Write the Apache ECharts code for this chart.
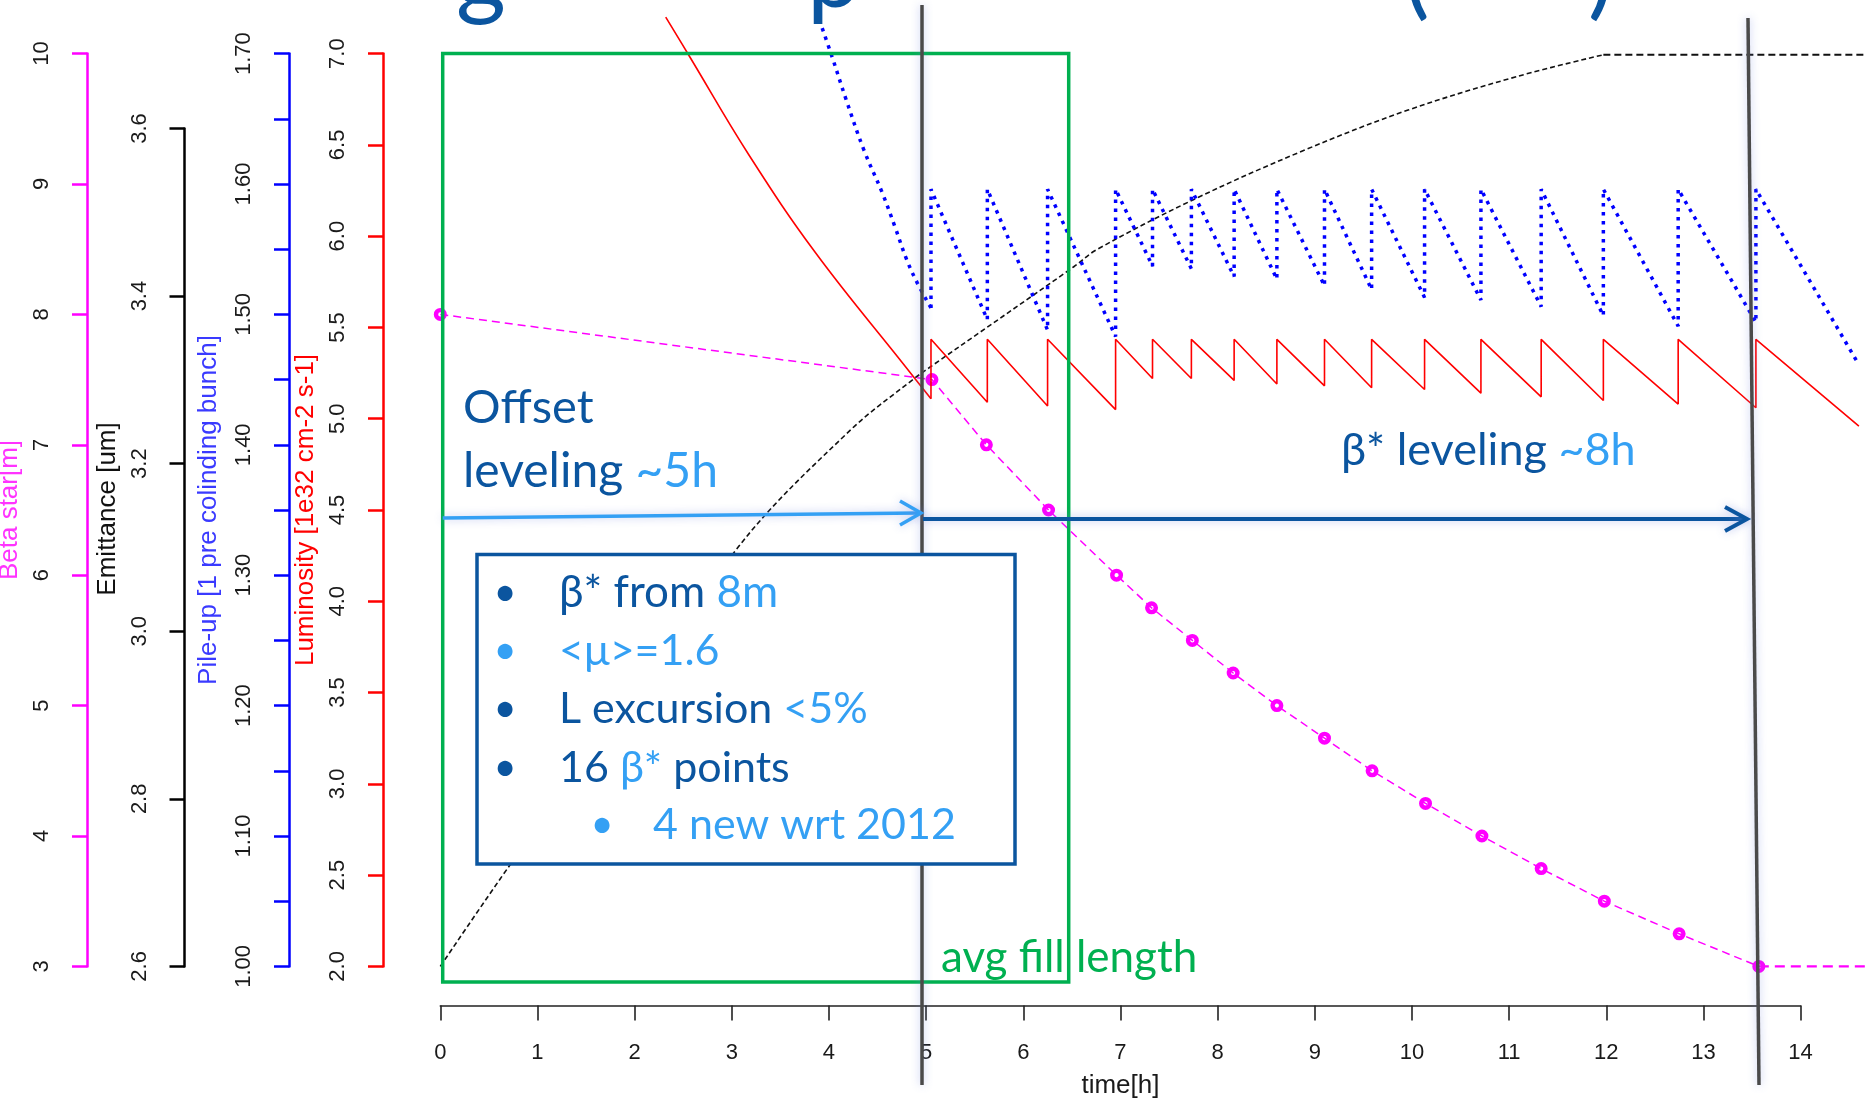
<!DOCTYPE html>
<html><head><meta charset="utf-8">
<script src="https://cdn.jsdelivr.net/npm/echarts@6/dist/echarts.min.js"></script>
<style>html,body{margin:0;padding:0;background:#fff}#c{width:1866px;height:1098px}</style>
</head><body><div id="c"></div>
<script>
// ---------- data ----------
// x axis (hours)
const xTickValues = [0,1,2,3,4,5,6,7,8,9,10,11,12,13,14];
// beta* step times (h) where luminosity / pile-up jump back up
const stepTime   = [5.05, 5.63, 6.25, 6.95, 7.33, 7.73, 8.17, 8.61, 9.10, 9.585, 10.13, 10.71, 11.33, 11.97, 12.74, 13.54];
// luminosity [1e32] : offset-leveling part, trough before each step, value after each step, tail
const lumOffsetTime  = [2.32, 2.57, 3.17, 3.86, 4.78, 5.05];
const lumOffsetValue = [7.20, 6.98, 6.45, 5.91, 5.29, 5.11];
const lumBefore = [5.11, 5.09, 5.07, 5.05, 5.22, 5.22, 5.21, 5.19, 5.18, 5.17, 5.16, 5.14, 5.12, 5.10, 5.08, 5.06];
const lumAfter  = [5.435, 5.435, 5.435, 5.435, 5.435, 5.435, 5.435, 5.435, 5.435, 5.435, 5.435, 5.435, 5.435, 5.435, 5.435, 5.435];
const lumTailTime = [14.60], lumTailValue = [4.96];
// pile-up
const puOffsetTime  = [3.90, 4.03, 4.18, 4.36, 4.55, 4.68, 4.80, 4.91, 5.05];
const puOffsetValue = [1.726, 1.698, 1.664, 1.626, 1.593, 1.567, 1.542, 1.524, 1.505];
const puBefore = [1.505, 1.496, 1.488, 1.483, 1.537, 1.535, 1.529, 1.527, 1.522, 1.519, 1.513, 1.511, 1.506, 1.499, 1.491, 1.494];
const puAfter  = [1.596, 1.596, 1.596, 1.596, 1.596, 1.596, 1.596, 1.596, 1.596, 1.596, 1.596, 1.596, 1.596, 1.596, 1.596, 1.596];
const puTailTime = [14.58], puTailValue = [1.464];
// beta star [m]
const betaTime  = [0, 5.06, 5.62, 6.26, 6.96, 7.32, 7.74, 8.16, 8.61, 9.10, 9.59, 10.14, 10.72, 11.33, 11.98, 12.75, 13.57];
const betaValue = [8, 7.5, 7, 6.5, 6, 5.75, 5.5, 5.25, 5, 4.75, 4.5, 4.25, 4, 3.75, 3.5, 3.25, 3];
const betaTailTime = [13.57, 14.67], betaTailValue = [3, 3];
// emittance [um]
const emitTime  = [0, 0.735, 3.07, 4.22, 4.86, 5.05, 6.52, 6.75, 7.75, 8.89, 9.96, 11.08, 11.97];
const emitValue = [2.600, 2.724, 3.101, 3.240, 3.300, 3.316, 3.435, 3.455, 3.515, 3.574, 3.622, 3.662, 3.688];
const emitFlatTime = [11.97, 14.67], emitFlatValue = [3.688, 3.688];
// tick labels
const lumLabels  = [2.0,2.5,3.0,3.5,4.0,4.5,5.0,5.5,6.0,6.5,7.0];
const puLabels   = [1.00,1.10,1.20,1.30,1.40,1.50,1.60,1.70];
const emitLabels = [2.6,2.8,3.0,3.2,3.4,3.6];
const betaLabels = [3,4,5,6,7,8,9,10];

// ---------- build series data ----------
function zip(t, v){ return t.map((x,i)=>[x, v[i]]); }
function steps(before, after, tailT, tailV){
  const d = [];
  stepTime.forEach((t,i)=>{ d.push([t, before[i]]); d.push([t, after[i]]); });
  return d.concat(zip(tailT, tailV));
}
const lumOffset = zip(lumOffsetTime, lumOffsetValue);
const lumSteps  = steps(lumBefore, lumAfter, lumTailTime, lumTailValue);
const puOffset  = zip(puOffsetTime, puOffsetValue);
const puSteps   = steps(puBefore, puAfter, puTailTime, puTailValue);
const betaData  = zip(betaTime, betaValue);
const betaTail  = zip(betaTailTime, betaTailValue);
const emitData  = zip(emitTime, emitValue);
const emitFlat  = zip(emitFlatTime, emitFlatValue);

// ---------- layout / styling ----------
const W = 1866, H = 1098;
const AXF = '"Liberation Sans", Arial, sans-serif';
const SF = 'Lato, "Noto Sans", sans-serif';
const DARK = '#0b559f', LIGHT = '#34a0f4', GREEN = '#00b050';
const GL = 440.3, GR = 65.4, GT = 53.6, GB = 131.6;
const XMAX = 14 * (W - GL) / (W - GL - GR);   // hour value at the right edge of the picture
const RING = 'path://M0,-10A10,10 0 1,1 0,10A10,10 0 1,1 0,-10ZM0,-3.2A3.2,3.2 0 1,0 0,3.2A3.2,3.2 0 1,0 0,-3.2Z';

function yAxis(o){
  return {
    type:'value', gridIndex:o.grid||0, position:'left', offset:o.offset,
    min:o.min, max:o.max, interval:o.interval,
    name:o.name, nameLocation:'middle', nameGap:o.nameGap,
    nameTextStyle:Object.assign({color:o.nameColor, fontSize:26, fontFamily:AXF}, o.nameExtra||{}),
    axisLine:{show:true, onZero:false, lineStyle:{color:o.color, width:2.5}},
    axisTick:{show:true, length:15, lineStyle:{color:o.color, width:2.5}},
    axisLabel:{rotate:90, margin:34, color:'#1a1a1a', fontSize:22, fontFamily:AXF,
      formatter:(v)=>{ const hit=o.labels.find(l=>Math.abs(l-v)<1e-6); return hit===undefined?'':hit.toFixed(o.dec); }},
    splitLine:{show:false}
  };
}
const plain = {outerBoundsMode:'none', containLabel:false};

const option = {
  animation:false,
  backgroundColor:'#ffffff',
  grid:[
    Object.assign({left:GL, right:0, top:GT, bottom:GB}, plain),
    Object.assign({left:GL, right:0, top:128.5, bottom:GB}, plain),
    Object.assign({left:GL, right:GR, top:GT, bottom:GB}, plain)
  ],
  xAxis:[
    {type:'value', gridIndex:0, min:0, max:XMAX, show:false},
    {type:'value', gridIndex:1, min:0, max:XMAX, show:false},
    {type:'value', gridIndex:2, min:0, max:14, interval:1, position:'bottom', offset:39.2,
     name:'time[h]', nameLocation:'middle', nameGap:67,
     nameTextStyle:{fontSize:26, color:'#1a1a1a', fontFamily:AXF},
     axisLine:{onZero:false, lineStyle:{color:'#222', width:1.6}},
     axisTick:{length:15, lineStyle:{color:'#222', width:1.6}},
     axisLabel:{margin:36, fontSize:22, color:'#1a1a1a', fontFamily:AXF,
       formatter:(v)=> xTickValues.includes(v) ? String(v) : ''},
     splitLine:{show:false}}
  ],
  yAxis:[
    yAxis({min:2, max:7, interval:0.5, offset:57.3, color:'#ff0000', nameColor:'#ff0000',
      name:'Luminosity [1e32 cm-2 s-1]', nameGap:63, labels:lumLabels, dec:1}),
    yAxis({min:1, max:1.7, interval:0.05, offset:151.3, color:'#0000ff', nameColor:'#3a3aff',
      name:'Pile-up [1 pre colinding bunch]', nameGap:67, labels:puLabels, dec:2}),
    yAxis({min:3, max:10, interval:1, offset:353.3, color:'#ff00ff', nameColor:'#ff33ff',
      name:'Beta star[m]', nameGap:57, labels:betaLabels, dec:0}),
    yAxis({grid:1, min:2.6, max:3.6, interval:0.2, offset:255.8, color:'#000000', nameColor:'#111',
      name:'Emittance [um]', nameGap:58, labels:emitLabels, dec:1, nameExtra:{padding:[0,0,0,77]}}),
    {type:'value', gridIndex:2, min:0, max:1, show:false}
  ],
  series:[
    {type:'line', name:'emittance', xAxisIndex:1, yAxisIndex:3, data:emitData, clip:false, smooth:0.35,
     symbol:'none', lineStyle:{color:'#111', width:1.6, type:[5,3]}, z:2},
    {type:'line', name:'emittanceFlat', xAxisIndex:1, yAxisIndex:3, data:emitFlat, clip:false,
     symbol:'none', lineStyle:{color:'#111', width:1.8, type:[7,4]}, z:2},
    {type:'line', name:'beta', xAxisIndex:0, yAxisIndex:2, data:betaData, clip:false,
     symbol:RING, symbolSize:13, itemStyle:{color:'#ff00ff', borderWidth:0},
     lineStyle:{color:'#ff00ff', width:1.5, type:[8,5]}, z:3},
    {type:'line', name:'betaTail', xAxisIndex:0, yAxisIndex:2, data:betaTail, clip:false,
     symbol:'none', lineStyle:{color:'#ff00ff', width:2.2, type:[10,6]}, z:3},
    {type:'line', name:'pileupOffset', xAxisIndex:0, yAxisIndex:1, data:puOffset, clip:false, smooth:0.4,
     symbol:'none', lineStyle:{color:'#0000ff', width:3.5, type:[3.5,5.5]}, z:3},
    {type:'line', name:'pileup', xAxisIndex:0, yAxisIndex:1, data:puSteps, clip:false,
     symbol:'none', lineStyle:{color:'#0000ff', width:3.5, type:[3.5,5.5]}, z:3},
    {type:'line', name:'lumiOffset', xAxisIndex:0, yAxisIndex:0, data:lumOffset, clip:false, smooth:0.4,
     symbol:'none', lineStyle:{color:'#ff0000', width:1.6}, z:4},
    {type:'line', name:'lumi', xAxisIndex:0, yAxisIndex:0, data:lumSteps, clip:false,
     symbol:'none', lineStyle:{color:'#ff0000', width:1.6}, z:4}
  ]
};

// ---------- slide annotations (overlay drawing) ----------
const glow = {shadowBlur:8, shadowColor:'rgba(110,130,220,0.45)'};
const T = (x,y,text,size,fill,extra)=>Object.assign({type:'text', z:120,
  style:Object.assign({x:x, y:y, text:text, fill:fill, fontSize:size, fontFamily:SF, verticalAlign:'middle'}, extra||{})});
const rich = (size)=>({d:{fill:DARK, fontSize:size, fontFamily:SF}, l:{fill:LIGHT, fontSize:size, fontFamily:SF}});
option.graphic = [
  // title fragments cut by the top edge
  T(481, -24, 'g', 96, DARK, {align:'center'}),
  T(807, -24, 'p', 96, DARK),
  T(1404, -24, '(', 96, DARK),
  T(1588, -24, ')', 96, DARK),
  // green "avg fill length" box
  {type:'rect', z:110, shape:{x:442.7, y:53.6, width:626, height:928.4}, style:{fill:null, stroke:GREEN, lineWidth:3.5}},
  // phase boundaries
  {type:'line', z:115, shape:{x1:922, y1:5, x2:922, y2:1085}, style:Object.assign({stroke:'#4a4a4a', lineWidth:3.5}, glow)},
  {type:'line', z:115, shape:{x1:1748, y1:18, x2:1759, y2:1085}, style:Object.assign({stroke:'#4a4a4a', lineWidth:3.5}, glow)},
  // arrows
  {type:'line', z:116, shape:{x1:442.7, y1:518, x2:919, y2:513}, style:Object.assign({stroke:LIGHT, lineWidth:3.5}, glow)},
  {type:'polyline', z:116, shape:{points:[[900,501],[921,513],[900,525]]}, style:Object.assign({stroke:LIGHT, lineWidth:3.5, fill:null}, glow)},
  {type:'line', z:116, shape:{x1:923, y1:519, x2:1745, y2:519}, style:Object.assign({stroke:DARK, lineWidth:4}, glow)},
  {type:'polyline', z:116, shape:{points:[[1725,507],[1747,519],[1725,531]]}, style:Object.assign({stroke:DARK, lineWidth:4, fill:null}, glow)},
  // text annotations
  T(463, 408, 'Offset', 47, DARK),
  T(463, 472, '{d|leveling }{l|~5h}', 48, DARK, {rich:rich(48)}),
  T(1341, 450, '{d|β* leveling }{l|~8h}', 45, DARK, {rich:rich(45)}),
  T(941, 958, 'avg fill length', 44, GREEN),
  // info box
  {type:'rect', z:118, shape:{x:477, y:554.5, width:538, height:309.5}, style:{fill:'#ffffff', stroke:DARK, lineWidth:3.5}},
  T(505, 593, '•', 40, DARK, {align:'center'}),
  T(505, 651, '•', 40, LIGHT, {align:'center'}),
  T(505, 709, '•', 40, DARK, {align:'center'}),
  T(505, 768, '•', 40, DARK, {align:'center'}),
  T(602, 825, '•', 40, LIGHT, {align:'center'}),
  T(559, 593, '{d|β* from }{l|8m}', 44, DARK, {rich:rich(44)}),
  T(559, 651, '<μ>=1.6', 43, LIGHT),
  T(559, 709, '{d|L excursion }{l|<5%}', 43, DARK, {rich:rich(43)}),
  T(559, 768, '{d|16 }{l|β*}{d| points}', 43, DARK, {rich:rich(43)}),
  T(653, 825, '4 new wrt 2012', 43, LIGHT)
];

const chart = echarts.init(document.getElementById('c'), null, {renderer:'canvas', width:W, height:H});
chart.setOption(option);
</script>
</body></html>
